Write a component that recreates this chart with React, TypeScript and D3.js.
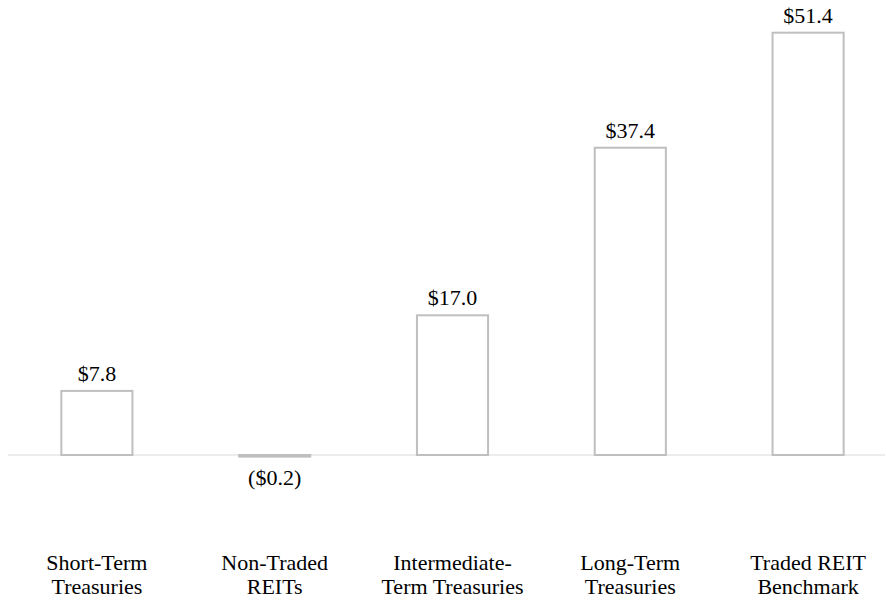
import React from "react";
import * as d3 from "d3";

const categories: string[][] = [
  ["Short-Term", "Treasuries"],
  ["Non-Traded", "REITs"],
  ["Intermediate-", "Term Treasuries"],
  ["Long-Term", "Treasuries"],
  ["Traded REIT", "Benchmark"],
];
const values: number[] = [7.8, -0.2, 17.0, 37.4, 51.4];
const valueLabels: string[] = ["$7.8", "($0.2)", "$17.0", "$37.4", "$51.4"];

const W = 886;
const H = 605;
const FONT = "Times New Roman";

export default function App() {
  const keys = categories.map((c) => c.join(" "));
  const x = d3
    .scaleBand<string>()
    .domain(keys)
    .range([8, 897])
    .paddingInner(0.6)
    .paddingOuter(0.3);
  const y = d3.scaleLinear().domain([0, 55]).range([455, 455 - 55 * 8.216]);

  return (
    <svg
      width={W}
      height={H}
      style={{ position: "absolute", left: 0, top: 0, background: "#fff" }}
    >
      <line x1={8} x2={885} y1={y(0)} y2={y(0)} stroke="#d9d9d9" strokeWidth={1.2} />
      {values.map((v, i) => {
        const k = keys[i];
        const x0 = x(k)!;
        const bw = x.bandwidth();
        const top = Math.min(y(v), y(0));
        const h = Math.abs(y(v) - y(0));
        return (
          <rect
            key={k}
            x={x0}
            y={top}
            width={bw}
            height={h}
            fill="#fff"
            stroke="#bfbfbf"
            strokeWidth={2}
          />
        );
      })}
      {values.map((v, i) => {
        const cx = x(keys[i])! + x.bandwidth() / 2;
        return (
          <text
            key={"v" + i}
            x={cx}
            y={v >= 0 ? y(v) - 10 : y(0) + 30}
            textAnchor="middle"
            fontFamily={FONT}
            fontSize={22}
          >
            {valueLabels[i]}
          </text>
        );
      })}
      {categories.map((lines, i) => {
        const cx = x(keys[i])! + x.bandwidth() / 2;
        return lines.map((line, j) => (
          <text
            key={"c" + i + "-" + j}
            x={cx}
            y={570 + j * 23.5}
            textAnchor="middle"
            fontFamily={FONT}
            fontSize={22}
          >
            {line}
          </text>
        ));
      })}
    </svg>
  );
}
